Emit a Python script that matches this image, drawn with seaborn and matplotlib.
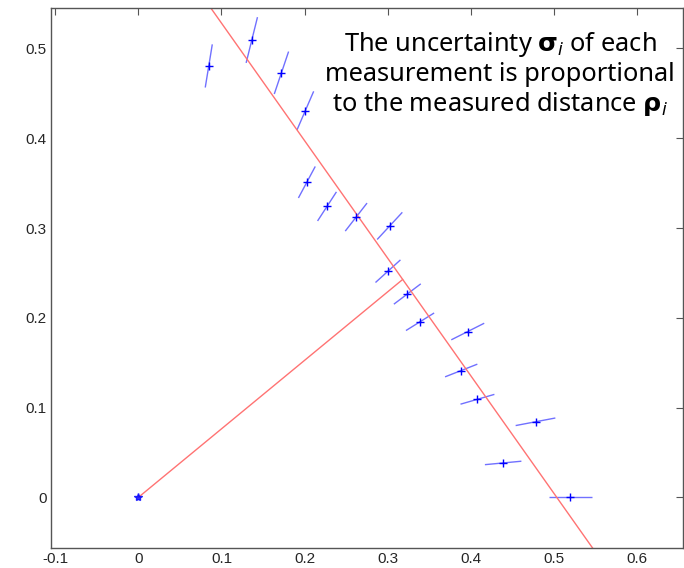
import numpy as np
import pandas as pd
import matplotlib
matplotlib.use("Agg")
import matplotlib.pyplot as plt
import seaborn as sns

# measurements in polar form (angle in degrees, measured distance)
theta_deg = [0, 5, 10, 15, 20, 25, 30, 35, 40, 45, 50, 55, 60, 65, 70, 75, 80]
rho = [0.5197, 0.4404, 0.4850, 0.4222, 0.4132, 0.4371, 0.3912, 0.3949, 0.3919,
       0.4276, 0.4075, 0.3956, 0.4053, 0.4752, 0.5032, 0.5273, 0.4879]
sigma_rel = 0.05  # uncertainty proportional to rho

# fitted line (alpha, r)
line_alpha_deg = 37.36
line_r = 0.4

x_ticks = [-0.1, 0, 0.1, 0.2, 0.3, 0.4, 0.5, 0.6]
y_ticks = [0, 0.1, 0.2, 0.3, 0.4, 0.5]

sns.set_style("white")
plt.rcParams['font.family'] = ['Liberation Sans', 'DejaVu Sans']
plt.rcParams['mathtext.fontset'] = 'custom'
plt.rcParams['mathtext.rm'] = 'Noto Sans'
plt.rcParams['mathtext.it'] = 'Noto Sans:italic'
plt.rcParams['mathtext.bf'] = 'DejaVu Sans:bold'

th = np.deg2rad(theta_deg)
rho = np.array(rho)
meas = pd.DataFrame({'x': rho * np.cos(th), 'y': rho * np.sin(th)})

fig = plt.figure(figsize=(6.84, 5.68), dpi=100)
ax = fig.add_axes([51 / 684, 1 - 547.7 / 568, 632 / 684, 539.7 / 568])

# radial uncertainty bars
blue = (0.3, 0.3, 1.0)
for t, r in zip(th, rho):
    s = sigma_rel * r
    ax.plot([(r - s) * np.cos(t), (r + s) * np.cos(t)],
            [(r - s) * np.sin(t), (r + s) * np.sin(t)],
            color=blue, lw=1.0, alpha=0.8, solid_capstyle='butt')

sns.scatterplot(data=meas, x='x', y='y', marker='+', s=30, color='blue',
                linewidth=1.0, ax=ax, zorder=3)

# fitted line and its normal from the origin
a = np.deg2rad(line_alpha_deg)
foot = np.array([line_r * np.cos(a), line_r * np.sin(a)])
direc = np.array([-np.sin(a), np.cos(a)])
span = np.array([-1.0, 1.0])
fit = pd.DataFrame({'x': foot[0] + span * direc[0], 'y': foot[1] + span * direc[1]})
normal = pd.DataFrame({'x': [0, foot[0]], 'y': [0, foot[1]]})
red = (1.0, 0.45, 0.45)
sns.lineplot(data=fit, x='x', y='y', sort=False, color=red, lw=1.0, ax=ax)
sns.lineplot(data=normal, x='x', y='y', sort=False, color=red, lw=1.0, ax=ax)

ax.plot([0], [0], marker='*', ms=6, color='blue', alpha=0.8, zorder=4)

ax.set_xlim(-0.105, 0.655)
ax.set_ylim(-0.056, 0.545)
ax.set_xticks(x_ticks)
ax.set_xticklabels(['-0.1', '0', '0.1', '0.2', '0.3', '0.4', '0.5', '0.6'])
ax.set_yticks(y_ticks)
ax.set_yticklabels(['0', '0.1', '0.2', '0.3', '0.4', '0.5'])
ax.set_xlabel('')
ax.set_ylabel('')
ax.tick_params(direction='in', length=5, width=0.8, color='#555555',
               labelsize=11, labelcolor='#262626', top=True, right=True,
               labeltop=False, labelright=False)
ax.tick_params(axis='x', pad=3)
ax.tick_params(axis='y', pad=3)
for sp in ax.spines.values():
    sp.set_color('#555555')
    sp.set_linewidth(1.0)

ax.text(0.7104, 0.8091,
        "The uncertainty $\\mathbf{σ}_{\\mathit{i}}$ of each\n"
        "measurement is proportional\n"
        "to the measured distance $\\mathbf{ρ}_{\\mathit{i}}$",
        transform=ax.transAxes, ha='center', va='baseline', ma='center',
        fontsize=18.3, family=['Noto Sans', 'DejaVu Sans'], color='black',
        linespacing=1.14)

fig.savefig("out.png", dpi=100)
